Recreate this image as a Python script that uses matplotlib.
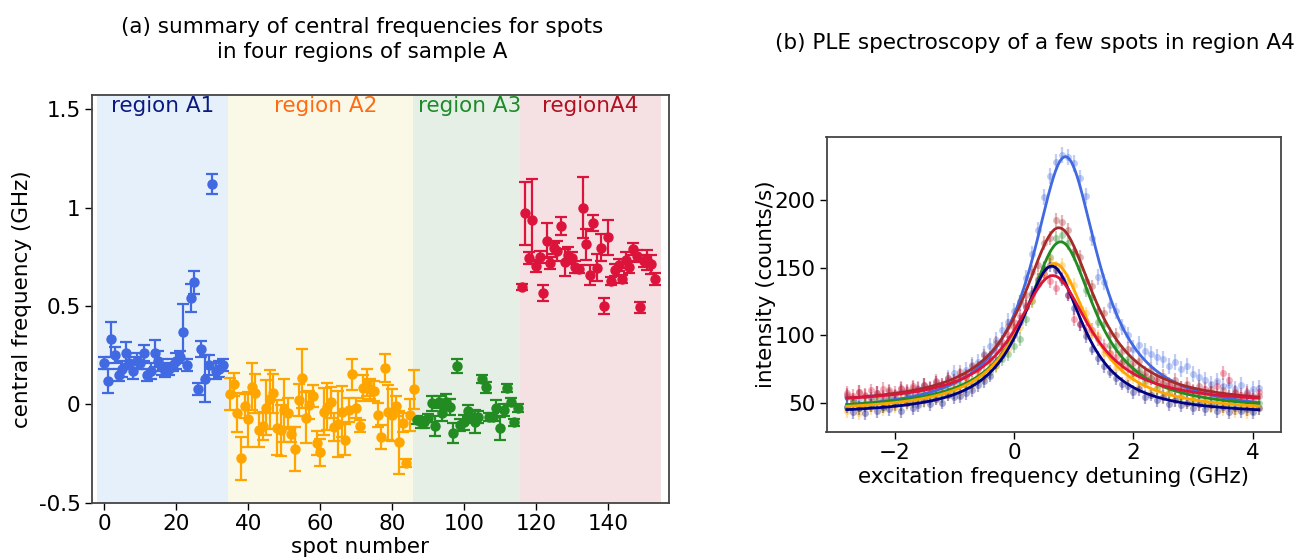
import numpy as np
import matplotlib.pyplot as plt
from matplotlib.ticker import FuncFormatter

plt.rcParams['font.family'] = 'DejaVu Sans'

# ---------------- (a) central frequencies per spot ----------------
a1_spots = list(range(0, 34))
a1_freq = [0.21, 0.12, 0.33, 0.25, 0.15, 0.18, 0.26, 0.21, 0.17, 0.22, 0.21, 0.26, 0.15, 0.17,
           0.26, 0.22, 0.19, 0.17, 0.18, 0.20, 0.22, 0.24, 0.37, 0.20, 0.54, 0.62, 0.08, 0.28,
           0.13, 0.20, 1.12, 0.17, 0.18, 0.20]
a1_err = [0.03, 0.06, 0.09, 0.04, 0.03, 0.04, 0.056, 0.03, 0.04, 0.04, 0.03, 0.04, 0.03, 0.04,
          0.068, 0.05, 0.04, 0.03, 0.03, 0.03, 0.04, 0.03, 0.14, 0.03, 0.07, 0.06, 0.03, 0.04,
          0.12, 0.05, 0.05, 0.04, 0.04, 0.03]

a2_spots = list(range(35, 87))
a2_freq = [0.052, 0.102, -0.043, -0.275, -0.007, -0.076, 0.09, 0.056, -0.131, -0.109, -0.017,
           0.025, 0.056, -0.119, -0.131, -0.029, -0.046, -0.153, -0.227, 0.022, 0.132, -0.067,
           -0.004, 0.042, -0.195, -0.244, -0.038, -0.012, 0.01, -0.114, -0.10, -0.038, -0.18,
           -0.029, 0.153, -0.02, -0.109, 0.084, 0.11, 0.078, 0.068, -0.054, -0.165, 0.186,
           -0.041, -0.054, -0.007, -0.193, -0.093, -0.30, -0.054, 0.076]
a2_err = [0.08, 0.06, 0.10, 0.11, 0.06, 0.14, 0.12, 0.10, 0.085, 0.07, 0.14, 0.15, 0.10, 0.14,
          0.13, 0.16, 0.08, 0.04, 0.11, 0.08, 0.15, 0.13, 0.07, 0.055, 0.06, 0.07, 0.12, 0.12,
          0.08, 0.07, 0.17, 0.13, 0.08, 0.06, 0.08, 0.05, 0.03, 0.065, 0.07, 0.05, 0.05, 0.06,
          0.06, 0.07, 0.14, 0.13, 0.05, 0.16, 0.05, 0.02, 0.08, 0.10]

a3_spots = list(range(87, 116))
a3_freq = [-0.08, -0.092, -0.092, -0.071, 0.005, -0.109, 0.013, -0.046, 0.013, -0.015, -0.147,
           0.196, -0.104, -0.092, -0.034, -0.066, -0.088, -0.063, 0.129, 0.086, -0.063, -0.063,
           -0.02, -0.122, -0.029, 0.084, 0.013, -0.092, -0.017]
a3_err = [0.02, 0.03, 0.03, 0.02, 0.04, 0.05, 0.03, 0.04, 0.04, 0.04, 0.05, 0.035, 0.03, 0.04,
          0.03, 0.03, 0.06, 0.03, 0.02, 0.03, 0.02, 0.02, 0.04, 0.06, 0.03, 0.02, 0.02, 0.02, 0.02]

a4_spots = list(range(116, 154))
a4_freq = [0.598, 0.971, 0.746, 0.937, 0.705, 0.748, 0.568, 0.832, 0.72, 0.793, 0.78, 0.907,
           0.722, 0.759, 0.746, 0.697, 0.687, 1.0, 0.814, 0.658, 0.921, 0.695, 0.797, 0.50,
           0.849, 0.627, 0.683, 0.709, 0.637, 0.734, 0.70, 0.788, 0.754, 0.493, 0.729, 0.734,
           0.712, 0.636]
a4_err = [0.015, 0.16, 0.03, 0.21, 0.03, 0.03, 0.04, 0.09, 0.03, 0.03, 0.05, 0.047, 0.07, 0.04,
          0.03, 0.03, 0.02, 0.156, 0.08, 0.05, 0.04, 0.07, 0.068, 0.04, 0.087, 0.02, 0.03, 0.03,
          0.02, 0.04, 0.03, 0.03, 0.03, 0.03, 0.03, 0.05, 0.05, 0.03]

region_names = ['region A1', 'region A2', 'region A3', 'regionA4']
region_edges = [-2.0, 34.5, 85.8, 115.7, 154.8]
region_shades = ['#e6f0fa', '#faf8e6', '#e5efe6', '#f5e1e3']
region_text_colors = ['#0b1a80', '#ff6a13', '#1f8a2a', '#b01020']
point_colors = ['royalblue', 'orange', 'forestgreen', 'crimson']
label_pos = [16.3, 61.6, 101.6, 135.0]

# ---------------- (b) PLE spectra ----------------
detuning = np.round(np.arange(-2.8, 4.15, 0.1), 2)
ple_colors = ['royalblue', 'brown', 'forestgreen', 'orange', 'navy', 'crimson']
ple_counts = [
    [54, 50, 53, 49, 54, 56, 52, 55, 53, 58, 57, 55, 60, 62, 59, 64, 62, 68, 72, 70, 74, 78, 80,
     86, 92, 96, 104, 110, 118, 124, 142, 160, 178, 202, 218, 228, 233, 232, 227, 216, 203, 172,
     143, 139, 122, 118, 106, 100, 90, 93, 88, 86, 84, 82, 77, 80, 75, 77, 71, 69, 67, 64, 66,
     62, 63, 60, 63, 58, 60, 61],
    [56, 52, 58, 55, 53, 57, 54, 59, 55, 60, 57, 61, 58, 63, 60, 66, 62, 68, 66, 73, 70, 77, 76,
     85, 83, 94, 95, 107, 110, 125, 130, 147, 152, 168, 172, 185, 184, 178, 162, 158, 140, 136,
     118, 116, 101, 100, 88, 90, 79, 81, 72, 75, 68, 70, 64, 67, 61, 64, 58, 62, 57, 60, 55, 59,
     54, 57, 53, 56, 52, 55],
    [47, 51, 46, 50, 48, 52, 47, 53, 50, 49, 55, 51, 52, 57, 53, 58, 55, 61, 58, 64, 62, 65, 67,
     70, 73, 78, 82, 86, 92, 97, 112, 125, 138, 150, 158, 172, 174, 168, 160, 150, 133, 128, 110,
     108, 93, 92, 80, 82, 72, 74, 66, 68, 61, 64, 57, 61, 54, 58, 52, 56, 50, 54, 49, 53, 48, 52,
     47, 51, 46, 50],
    [44, 49, 42, 48, 46, 51, 45, 50, 47, 53, 49, 52, 55, 51, 57, 53, 59, 56, 62, 58, 66, 63, 71,
     69, 78, 77, 88, 90, 103, 106, 121, 126, 142, 145, 156, 150, 152, 140, 137, 120, 116, 101,
     99, 87, 86, 76, 76, 68, 69, 62, 64, 58, 61, 55, 58, 52, 56, 50, 54, 49, 53, 47, 52, 45, 51,
     44, 50, 43, 49, 46],
    [47, 43, 46, 42, 48, 44, 47, 45, 49, 44, 50, 46, 48, 52, 49, 53, 50, 56, 54, 55, 57, 59, 63,
     66, 70, 80, 85, 94, 100, 110, 121, 131, 141, 149, 152, 148, 141, 130, 120, 108, 99, 90, 83,
     77, 73, 68, 64, 62, 58, 60, 54, 56, 52, 54, 49, 52, 48, 50, 46, 49, 45, 48, 44, 47, 43, 46,
     44, 45, 43, 46],
    [57, 55, 58, 56, 59, 57, 60, 58, 57, 61, 59, 62, 60, 63, 61, 65, 63, 67, 66, 70, 69, 74, 75,
     80, 82, 88, 92, 100, 106, 114, 122, 130, 138, 145, 140, 135, 142, 130, 112, 108, 103, 104,
     97, 92, 87, 84, 80, 77, 74, 72, 70, 68, 66, 65, 63, 62, 61, 60, 59, 58, 60, 57, 62, 72, 67,
     58, 56, 57, 55, 58],
]
ple_err = [6, 5, 5, 5, 5, 5]

# Lorentzian fit parameters: amplitude, centre (GHz), half width (GHz), background
fit_amp = [190.0, 131.4, 125.0, 110.0, 110.0, 95.0]
fit_center = [0.86, 0.75, 0.78, 0.68, 0.63, 0.65]
fit_hwhm = [0.68, 0.74, 0.70, 0.70, 0.65, 0.75]
fit_bg = [42.0, 48.0, 44.0, 43.0, 41.0, 49.0]


def lorentzian(x, amp, x0, g, bg):
    return bg + amp / (1.0 + ((x - x0) / g) ** 2)


FS = 15.5
W, H = 1304, 559
fig = plt.figure(figsize=(W / 100, H / 100), dpi=100)
axa = fig.add_axes([91.7 / W, 1 - 502.7 / H, (669 - 91.7) / W, (502.7 - 95) / H])
axb = fig.add_axes([826.5 / W, 1 - 431.7 / H, (1281 - 826.5) / W, (431.7 - 136.7) / H])

spine_col = '#444444'

# panel (a)
for i in range(4):
    axa.axvspan(region_edges[i], region_edges[i + 1], color=region_shades[i], lw=0, zorder=0)
    axa.text(label_pos[i], 1.517, region_names[i], color=region_text_colors[i],
             ha='center', va='center', fontsize=FS)

groups = [(a1_spots, a1_freq, a1_err), (a2_spots, a2_freq, a2_err),
          (a3_spots, a3_freq, a3_err), (a4_spots, a4_freq, a4_err)]
for (sx, sy, se), col in zip(groups, point_colors):
    axa.errorbar(sx, sy, yerr=se, fmt='o', color=col, ms=6.5, elinewidth=1.6,
                 capsize=4.5, capthick=1.6, zorder=3)

axa.set_xlim(-3.5, 157)
axa.set_ylim(-0.5, 1.573)
axa.set_xticks([0, 20, 40, 60, 80, 100, 120, 140])
axa.set_yticks([-0.5, 0, 0.5, 1, 1.5])
axa.yaxis.set_major_formatter(FuncFormatter(lambda v, p: '%g' % v))
axa.tick_params(labelsize=FS, length=5, width=1, colors='black', pad=3)
axa.set_ylabel('central frequency (GHz)', fontsize=FS, labelpad=5)
for s in axa.spines.values():
    s.set_color(spine_col)
    s.set_linewidth(1.3)

fig.text(362 / W, 1 - 27 / H, '(a) summary of central frequencies for spots',
         ha='center', va='center', fontsize=FS)
fig.text(362 / W, 1 - 52 / H, 'in four regions of sample A',
         ha='center', va='center', fontsize=FS)
fig.text(360 / W, 1 - 547 / H, 'spot number', ha='center', va='center', fontsize=FS)

# panel (b)
xfit = np.linspace(detuning[0], detuning[-1], 400)
for k in range(6):
    axb.errorbar(detuning, ple_counts[k], yerr=ple_err[k], fmt='o', color=ple_colors[k],
                 ms=5, elinewidth=1.6, alpha=0.33, mew=0, zorder=2)
for k in range(6):
    axb.plot(xfit, lorentzian(xfit, fit_amp[k], fit_center[k], fit_hwhm[k], fit_bg[k]),
             color=ple_colors[k], lw=2, zorder=3)

axb.set_xlim(-3.14, 4.47)
axb.set_ylim(28.5, 246.8)
axb.set_xticks([-2, 0, 2, 4])
axb.set_yticks([50, 100, 150, 200])
axb.tick_params(labelsize=FS, length=5, width=1, pad=3)
axb.set_xlabel('excitation frequency detuning (GHz)', fontsize=FS, labelpad=3)
axb.set_ylabel('intensity (counts/s)', fontsize=FS, labelpad=-1)
for s in axb.spines.values():
    s.set_color(spine_col)
    s.set_linewidth(1.3)

fig.text(1035 / W, 1 - 43 / H, '(b) PLE spectroscopy of a few spots in region A4',
         ha='center', va='center', fontsize=FS)

fig.savefig('out.png', dpi=100)
